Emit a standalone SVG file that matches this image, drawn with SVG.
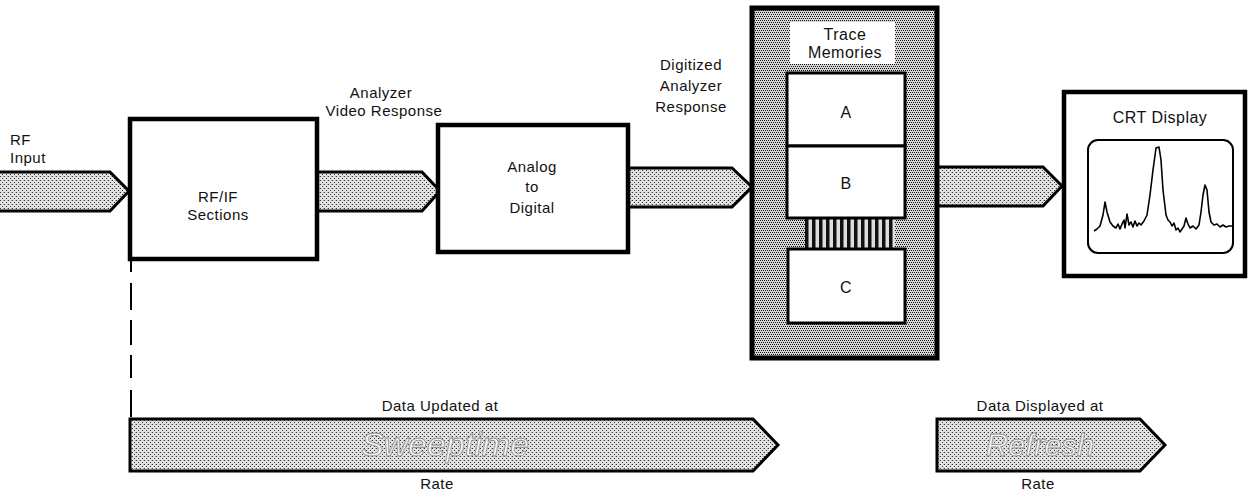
<svg xmlns="http://www.w3.org/2000/svg" width="1249" height="493" viewBox="0 0 1249 493">
<defs>
<pattern id="stip" width="4" height="4" patternUnits="userSpaceOnUse">
<rect width="4" height="4" fill="#e2e2e2"/>
<rect x="0" y="0" width="1" height="1" fill="#333"/>
<rect x="2" y="2" width="1" height="1" fill="#333"/>
<rect x="3" y="0" width="1" height="1" fill="#aaa"/>
</pattern>
<pattern id="dense" width="4" height="4" patternUnits="userSpaceOnUse">
<rect width="4" height="4" fill="#d6d6d6"/>
<rect x="0" y="0" width="1" height="1" fill="#111"/>
<rect x="2" y="0" width="1" height="1" fill="#111"/>
<rect x="1" y="2" width="1" height="1" fill="#111"/>
<rect x="3" y="2" width="1" height="1" fill="#111"/>
</pattern>
<pattern id="hatch" width="7" height="7" patternUnits="userSpaceOnUse">
<rect width="7" height="7" fill="#ddd"/>
<rect x="0" y="0" width="3.5" height="7" fill="#111"/>
</pattern>
</defs>
<style>
text{font-family:"Liberation Sans",Arial,sans-serif;font-size:15px;letter-spacing:0.5px;fill:#111}
.c{text-anchor:middle}
.lg{font-size:16px}
.box{fill:#fff;stroke:#000;stroke-width:4.5}
.inner{fill:#fff;stroke:#000;stroke-width:3}
.arr{fill:url(#stip);stroke:#000;stroke-width:3;stroke-linejoin:miter}
.big{font-size:34px;font-style:italic;letter-spacing:0;fill:#f6f6f6;stroke:#8a8a8a;stroke-width:0.8;text-anchor:middle}
</style>
<rect width="1249" height="493" fill="#fff"/>

<g id="connectors">
<path class="arr" d="M-2,172 L110,172 L129,191 L110,211 L-2,211"/>
<path class="arr" d="M317,172 L422,172 L440,191 L422,211 L317,211"/>
<path class="arr" d="M628,168 L732,168 L752,187 L732,207 L628,207"/>
<path class="arr" d="M937,167 L1043,167 L1062,186 L1043,206 L937,206"/>
<path d="M131,258 L131,418" stroke="#000" stroke-width="2" fill="none" stroke-dasharray="14 11 27 10 25 10 23 12 27"/>
</g>

<g id="rf-input">
<text x="10" y="145">RF</text>
<text x="10" y="163">Input</text>
</g>

<g id="rfif">
<rect class="box" x="130" y="119" width="187" height="140"/>
<text class="c" x="218" y="202">RF/IF</text>
<text class="c" x="218" y="220">Sections</text>
</g>

<g id="video-label">
<text class="c" x="381" y="98">Analyzer</text>
<text class="c" x="384" y="116">Video Response</text>
</g>

<g id="adc">
<rect class="box" x="438" y="125" width="190" height="127"/>
<text class="c" x="532" y="172">Analog</text>
<text class="c" x="532" y="192">to</text>
<text class="c" x="532" y="213">Digital</text>
</g>

<g id="digitized-label">
<text class="c" x="691" y="70">Digitized</text>
<text class="c" x="691" y="91">Analyzer</text>
<text class="c" x="691" y="112">Response</text>
</g>

<g id="trace-memories">
<rect x="752" y="8" width="185" height="350" fill="url(#dense)" stroke="#000" stroke-width="5"/>
<rect x="790" y="22" width="105" height="42" fill="#fff"/>
<text class="c lg" x="845" y="40">Trace</text>
<text class="c lg" x="845" y="58">Memories</text>
<rect x="805" y="218" width="90" height="31" fill="url(#hatch)"/>
<rect class="inner" x="787" y="73" width="118" height="73"/>
<rect class="inner" x="787" y="146" width="118" height="72"/>
<rect class="inner" x="788" y="249" width="117" height="74"/>
<text class="c lg" x="846" y="118">A</text>
<text class="c lg" x="846" y="189">B</text>
<text class="c lg" x="846" y="293">C</text>
</g>

<g id="crt">
<rect class="box" x="1064" y="92" width="181" height="184" stroke-width="5"/>
<text class="c lg" x="1160" y="123">CRT Display</text>
<rect x="1088" y="140" width="145" height="113" rx="10" fill="#fff" stroke="#000" stroke-width="2"/>
<path fill="none" stroke="#000" stroke-width="1.6" stroke-linejoin="round" d="M1094,231 L1097,229 L1100,226 L1103,215 L1105,202 L1107,212 L1110,222 L1113,226 L1116,228 L1118,224 L1120,229 L1122,224 L1124,220 L1125,228 L1127,214 L1129,225 L1131,222 L1133,227 L1135,221 L1137,226 L1139,223 L1141,225 L1144,221 L1147,215 L1150,195 L1153,170 L1156,148 L1159,147 L1161,160 L1163,190 L1166,215 L1168,220 L1170,222 L1172,226 L1174,223 L1176,230 L1178,228 L1180,232 L1182,229 L1184,226 L1186,218 L1188,224 L1190,228 L1193,226 L1196,229 L1199,225 L1201,212 L1203,195 L1205,185 L1207,190 L1209,212 L1211,222 L1214,225 L1217,224 L1220,227 L1223,225 L1226,227 L1229,226 L1232,226"/>
</g>

<g id="sweeptime">
<text class="c" x="440" y="411">Data Updated at</text>
<path class="arr" d="M130,419 L753,419 L778,445 L753,471 L130,471 Z"/>
<text class="big" x="445" y="456">Sweeptime</text>
<text class="c" x="437" y="489">Rate</text>
</g>

<g id="refresh">
<text class="c" x="1040" y="411">Data Displayed at</text>
<path class="arr" d="M937,419 L1140,419 L1165,445 L1140,471 L937,471 Z"/>
<text class="big" x="1040" y="456" style="font-size:31px">Refresh</text>
<text class="c" x="1038" y="489">Rate</text>
</g>
</svg>
